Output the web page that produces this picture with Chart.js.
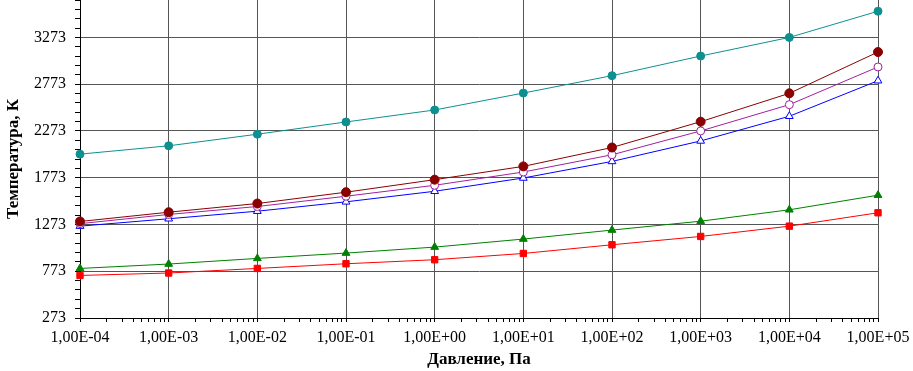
<!DOCTYPE html>
<html>
<head>
<meta charset="utf-8">
<script src="https://cdn.jsdelivr.net/npm/chart.js@4/dist/chart.umd.min.js"></script>
<style>
html,body{margin:0;padding:0;background:#fff;}
#wrap{width:913px;height:371px;position:relative;}
</style>
</head>
<body>
<div id="wrap"><canvas id="c" width="913" height="371"></canvas></div>
<script>
// log10 of pressure, Pa
const pressureExp = [-4, -3, -2, -1, 0, 1, 2, 3, 4, 5];
const xTickLabels = ['1,00E-04','1,00E-03','1,00E-02','1,00E-01','1,00E+00','1,00E+01','1,00E+02','1,00E+03','1,00E+04','1,00E+05'];
const yTickLabels = ['273','773','1273','1773','2273','2773','3273'];

const seriesTeal   = [2025, 2114, 2238, 2369, 2497, 2678, 2864, 3074, 3273, 3553];
const seriesMaroon = [1305, 1404, 1497, 1618, 1752, 1894, 2096, 2372, 2675, 3117];
const seriesPurple = [1282, 1380, 1465, 1575, 1692, 1834, 2018, 2273, 2554, 2957];
const seriesBlue   = [1255, 1334, 1415, 1515, 1628, 1770, 1947, 2166, 2430, 2810];
const seriesGreen  = [ 803,  850,  910,  967, 1031, 1117, 1213, 1308, 1430, 1586];
const seriesRed    = [ 728,  754,  803,  853,  896,  963, 1056, 1145, 1255, 1398];

const yMin = 273, yMax = 3673, yMajor = 500, yMinor = 100;

function pts(arr){ return arr.map((v,i)=>({x: pressureExp[i], y: v})); }

function ds(data, color, style, fill, r){
  return {
    data: pts(data), borderColor: color, backgroundColor: color,
    pointStyle: style, pointRadius: r, pointHoverRadius: r,
    pointBackgroundColor: fill ? color : '#fff',
    pointBorderColor: color, pointBorderWidth: 1,
    borderWidth: 1, tension: 0, fill: false, clip: false
  };
}

const serif = '"Liberation Serif", "Times New Roman", serif';

new Chart(document.getElementById('c'), {
  type: 'line',
  data: {
    datasets: [
      ds(seriesTeal,   '#0f9090', 'circle',   true, 4),
      ds(seriesMaroon, '#8b0000', 'circle',   true, 4.5),
      ds(seriesPurple, '#a020a0', 'circle',   false, 4),
      ds(seriesBlue,   '#0000ff', 'triangle', false, 4.5),
      ds(seriesGreen,  '#008000', 'triangle', true, 4.5),
      ds(seriesRed,    '#ff0000', 'rect',     true, 4.5)
    ]
  },
  options: {
    responsive: false,
    animation: false,
    layout: { autoPadding: false, padding: { left: 0, right: 35, top: 0, bottom: 0 } },
    plugins: { legend: { display: false }, tooltip: { enabled: false } },
    scales: {
      x: {
        type: 'linear', min: pressureExp[0], max: pressureExp[pressureExp.length-1],
        afterBuildTicks: (s) => {
          const t = [];
          for (let k = pressureExp[0]; k <= pressureExp[pressureExp.length-1]; k++) {
            t.push({ value: k, major: true });
            if (k < pressureExp[pressureExp.length-1]) {
              for (let m = 2; m <= 9; m++) t.push({ value: k + Math.log10(m), minor: true });
            }
          }
          s.ticks = t;
        },
        afterFit: (s) => { s.height = 53; s.paddingLeft = 0; s.paddingRight = 0; },
        border: { color: '#000', width: 1 },
        grid: {
          color: (c) => (c.tick && c.tick.minor) ? 'rgba(0,0,0,0)' : '#555',
          tickColor: '#000', tickLength: 4, lineWidth: 1
        },
        ticks: {
          autoSkip: false, maxRotation: 0, padding: 6,
          color: '#000', font: { family: serif, size: 16 },
          callback: function(v){
            const i = pressureExp.indexOf(v);
            return i >= 0 ? xTickLabels[i] : '';
          }
        },
        title: {
          display: true, text: 'Давление, Па', color: '#000',
          font: { family: serif, size: 17, weight: 'bold' },
          padding: { top: 0, bottom: 1 }
        }
      },
      y: {
        type: 'linear', min: yMin, max: yMax,
        afterBuildTicks: (s) => {
          const t = [];
          for (let v = yMin; v <= yMax; v += yMinor) {
            t.push({ value: v, minor: ((v - yMin) % yMajor) !== 0 });
          }
          s.ticks = t;
        },
        afterFit: (s) => { s.width = 80; s.paddingTop = 0; s.paddingBottom = 0; },
        border: { color: '#000', width: 1 },
        grid: {
          color: (c) => (c.tick && c.tick.minor) ? 'rgba(0,0,0,0)' : '#555',
          tickColor: '#000', tickLength: 5, lineWidth: 1
        },
        ticks: {
          autoSkip: false, padding: 9,
          color: '#000', font: { family: serif, size: 16 },
          callback: function(v){
            const l = String(v);
            return yTickLabels.includes(l) ? l : '';
          }
        },
        title: {
          display: true, text: 'Температура, К', color: '#000',
          font: { family: serif, size: 17, weight: 'bold' },
          padding: { top: 3, bottom: 0 }
        }
      }
    }
  }
});
</script>
</body>
</html>
